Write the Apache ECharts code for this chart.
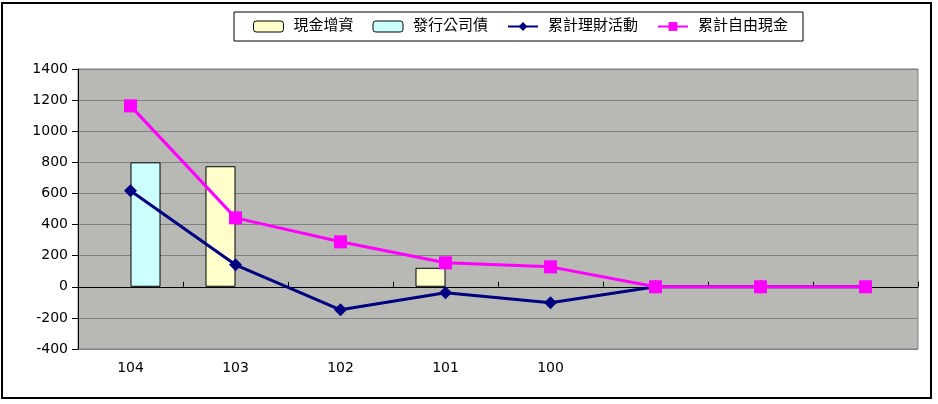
<!DOCTYPE html>
<html><head><meta charset="utf-8">
<script src="https://cdn.jsdelivr.net/npm/echarts@6/dist/echarts.min.js"></script>
<style>html,body{margin:0;padding:0;background:#fff}#c{width:938px;height:404px}</style>
</head><body><div id="c"></div>
<script>
const categories = ['104','103','102','101','100','','',''];
const cashIncrease = [null, 775, null, 122, null, null, null, null];   // 現金增資
const bondIssue = [800, null, null, null, null, null, null, null];     // 發行公司債
const cumFinancing = [617, 141, -148, -39, -103, 0, 0, 0];  // 累計理財活動
const cumFreeCash = [1163, 443, 289, 154, 128, 0, 0, 0];    // 累計自由現金
const yTicks = {min: -400, max: 1400, interval: 200};

const font = '"DejaVu Sans", "Noto Sans CJK TC", sans-serif';
const chart = echarts.init(document.getElementById('c'), null, {renderer:'canvas'});
chart.setOption({
  animation:false,
  textStyle:{fontFamily:font},
  graphic:[{type:'rect', shape:{x:2,y:3,width:929,height:395}, style:{fill:'none', stroke:'#000', lineWidth:2}, z:-10},
           {type:'rect', shape:{x:234,y:12,width:569,height:29}, style:{fill:'#fff', stroke:'#000', lineWidth:1}, z:-5}],
  legend:{
    left:248, top:14, itemWidth:30, itemHeight:11, itemGap:19,
    textStyle:{fontSize:15, color:'#000', fontFamily:font, padding:[0,0,0,5]},
    data:[
      {name:'現金增資', itemStyle:{color:'#ffffcc', borderColor:'#000', borderWidth:1}},
      {name:'發行公司債', itemStyle:{color:'#ccffff', borderColor:'#000', borderWidth:1}},
      {name:'累計理財活動'},
      {name:'累計自由現金'}
    ]
  },
  grid:{left:78, right:20, top:69, bottom:55, show:true, backgroundColor:'#b8b8b4', borderColor:'#808080', borderWidth:1},
  xAxis:[
    {type:'category', data:categories, position:'bottom', axisLine:{show:false, onZero:false}, axisTick:{show:false},
     axisLabel:{fontSize:14, color:'#000', margin:12, fontFamily:font}},
    {type:'category', data:categories, position:'bottom', axisLine:{show:true, onZero:true, lineStyle:{color:'#000', width:1}},
     axisTick:{show:true, inside:true, length:5, lineStyle:{color:'#000'}}, axisLabel:{show:false}}
  ],
  yAxis:{type:'value', min:yTicks.min, max:yTicks.max, interval:yTicks.interval,
    axisLine:{show:true, lineStyle:{color:'#000'}}, axisTick:{show:true, length:6, lineStyle:{color:'#000'}},
    axisLabel:{fontSize:14, color:'#000', margin:10, fontFamily:font, formatter:v=>String(v)},
    splitLine:{lineStyle:{color:'#808080', width:1}}},
  series:[
    {name:'現金增資', type:'bar', data:cashIncrease, barWidth:30, barGap:'0%', itemStyle:{color:'#ffffcc', borderColor:'#000', borderWidth:1}},
    {name:'發行公司債', type:'bar', data:bondIssue, barWidth:30, barGap:'0%', itemStyle:{color:'#ccffff', borderColor:'#000', borderWidth:1}},
    {name:'累計理財活動', type:'line', data:cumFinancing, symbol:'diamond', symbolSize:13, lineStyle:{color:'#000080', width:3}, itemStyle:{color:'#000080'}, z:3},
    {name:'累計自由現金', type:'line', data:cumFreeCash, symbol:'rect', symbolSize:13, lineStyle:{color:'#ff00ff', width:3}, itemStyle:{color:'#ff00ff'}, z:4}
  ]
});
</script></body></html>
